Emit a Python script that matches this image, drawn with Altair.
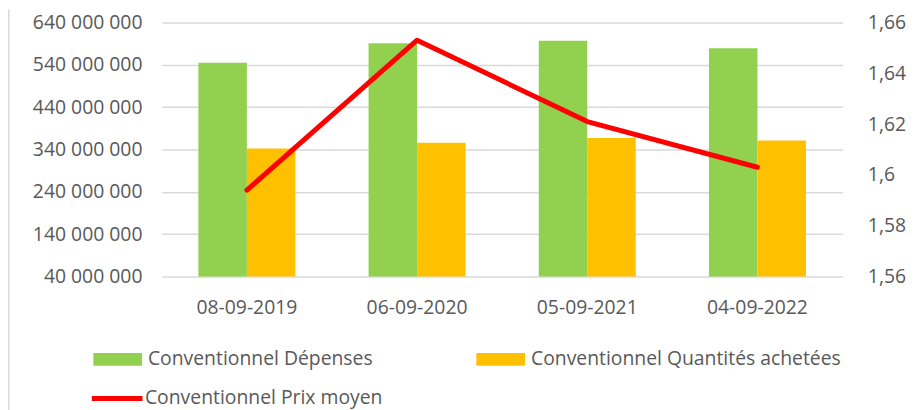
import altair as alt
import pandas as pd

dates = ["08-09-2019", "06-09-2020", "05-09-2021", "04-09-2022"]
series = ["Conventionnel Dépenses", "Conventionnel Quantités achetées"]
depenses = [545000000, 591000000, 597000000, 579000000]
quantites = [342000000, 356000000, 367000000, 361000000]
prix = [1.594, 1.653, 1.621, 1.603]
line_name = "Conventionnel Prix moyen"
left_ticks = [40000000, 140000000, 240000000, 340000000, 440000000, 540000000, 640000000]
right_ticks = [1.56, 1.58, 1.60, 1.62, 1.64, 1.66]

GREEN = "#92d050"
ORANGE = "#ffc000"
RED = "#ff0000"
TEXT = "#595959"
GRID = "#d9d9d9"
FONT = "Open Sans"
FS = 19.5

W, H = 686, 256
PAD = {"left": 155, "top": 13, "right": 70, "bottom": 135}

rows = []
for d, a, b in zip(dates, depenses, quantites):
    rows.append({"date": d, "series": series[0], "value": a})
    rows.append({"date": d, "series": series[1], "value": b})
bars_df = pd.DataFrame(rows)
line_df = pd.DataFrame({"date": dates, "prix": prix, "serie": [line_name] * len(dates)})

x_enc = alt.X(
    "date:N",
    sort=dates,
    scale=alt.Scale(paddingInner=0.43, paddingOuter=0.215),
    axis=alt.Axis(
        title=None, labelAngle=0, domain=False, ticks=False, labelPadding=22,
        labelFontSize=FS, labelFont=FONT, labelColor=TEXT, grid=False,
    ),
)

bars = alt.Chart(bars_df).mark_bar().encode(
    x=x_enc,
    xOffset=alt.XOffset("series:N", sort=series, scale=alt.Scale(paddingInner=0, paddingOuter=0)),
    y=alt.Y(
        "value:Q",
        scale=alt.Scale(domain=[40000000, 640000000], nice=False, zero=False),
        axis=alt.Axis(
            title=None, values=left_ticks, domain=False, ticks=False, labelPadding=20,
            labelExpr="replace(replace(format(datum.value, ',.0f'), ',', ' '), ',', ' ')",
            grid=True, gridColor=GRID, gridWidth=1.5,
            labelFontSize=FS, labelFont=FONT, labelColor=TEXT,
        ),
    ),
    y2=alt.datum(40000000),
    color=alt.Color(
        "series:N",
        scale=alt.Scale(domain=series, range=[GREEN, ORANGE]),
        legend=alt.Legend(
            title=None, orient="none", legendX=-69, legendY=315, columns=2,
            columnPadding=104, direction="horizontal",
            symbolType="M-1,-0.265L1,-0.265L1,0.265L-1,0.265Z", symbolSize=2401,
            symbolStrokeWidth=0, labelOffset=6,
            labelFontSize=FS, labelFont=FONT, labelColor=TEXT, labelLimit=500,
        ),
    ),
)

line = alt.Chart(line_df).mark_line(strokeWidth=5, strokeCap="round", strokeJoin="round").encode(
    x=alt.X("date:N", sort=dates),
    y=alt.Y(
        "prix:Q",
        scale=alt.Scale(domain=[1.56, 1.66], nice=False, zero=False),
        axis=alt.Axis(
            title=None, orient="right", values=right_ticks, domain=False, ticks=False,
            labelPadding=25, grid=False,
            labelExpr="replace(format(datum.value, '.2~f'), '.', ',')",
            labelFontSize=FS, labelFont=FONT, labelColor=TEXT,
        ),
    ),
    stroke=alt.Stroke(
        "serie:N",
        scale=alt.Scale(domain=[line_name], range=[RED]),
        legend=alt.Legend(
            title=None, orient="none", legendX=-73, legendY=351,
            symbolType="stroke", symbolSize=2601, symbolStrokeWidth=5, labelOffset=0,
            labelFontSize=FS, labelFont=FONT, labelColor=TEXT, labelLimit=500,
        ),
    ),
)

border = alt.Chart(pd.DataFrame({"k": [0]})).mark_rule(color=GRID, strokeWidth=2).encode(
    x=alt.value(-154.5), y=alt.value(-13), y2=alt.value(H + 135)
)

chart = (
    alt.layer(bars, line, border)
    .resolve_scale(y="independent")
    .properties(width=W, height=H, autosize="none", padding=PAD)
    .configure_view(stroke=None)
)

chart.save("out.html", embed_options={"renderer": "svg", "actions": False})
